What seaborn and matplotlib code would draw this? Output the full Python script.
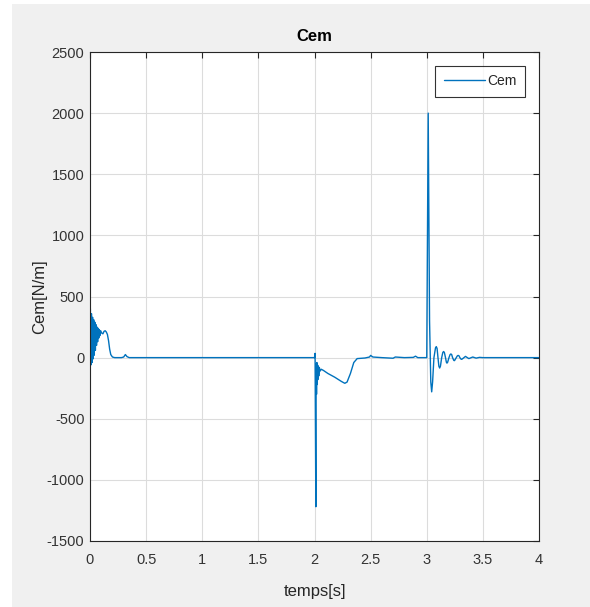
import matplotlib
matplotlib.use('Agg')
import matplotlib.pyplot as plt
import seaborn as sns
import pandas as pd
from matplotlib.patches import Rectangle

temps = [0.0, 0.003, 0.008, 0.013, 0.018, 0.023, 0.028, 0.033, 0.038, 0.043,
         0.048, 0.053, 0.058, 0.063, 0.068, 0.073, 0.078, 0.083, 0.088, 0.095,
         0.105, 0.115, 0.125, 0.135, 0.145, 0.155, 0.165, 0.175, 0.185, 0.2,
         0.22, 0.28, 0.3, 0.315, 0.33, 0.35,
         2.0, 2.005, 2.012, 2.015, 2.018, 2.021, 2.024, 2.027, 2.03, 2.034,
         2.038, 2.043, 2.05, 2.06, 2.08, 2.12, 2.18, 2.24, 2.27, 2.29,
         2.32, 2.35, 2.38, 2.45, 2.49, 2.5, 2.52, 2.6, 2.7, 2.72,
         2.8, 2.88, 2.9, 2.92, 3.0,
         3.013, 3.025, 3.036, 3.044, 3.052, 3.064, 3.078, 3.085, 3.092,
         3.1, 3.108, 3.115, 3.122, 3.133, 3.143, 3.15, 3.157, 3.167, 3.175,
         3.18, 3.186, 3.198, 3.208, 3.215, 3.222, 3.23, 3.24, 3.245, 3.25,
         3.263, 3.273, 3.28, 3.287, 3.295, 3.305, 3.31, 3.315,
         3.345, 3.375, 3.41, 3.44, 3.47, 3.5, 4.0]
cem = [0, 400, -60, 360, -40, 330, -10, 310, 20, 290,
       60, 270, 100, 250, 130, 240, 160, 230, 180, 220,
       200, 195, 215, 220, 210, 190, 140, 70, 25, 5,
       0, 0, 5, 25, 8, 0,
       0, 35, -1220, -50, -300, -40, -220, -60, -180, -70,
       -150, -80, -110, -95, -105, -130, -160, -195, -210, -200,
       -130, -40, -8, -3, 5, 18, 5, 0, -5, 5,
       0, 2, 12, 0, 0,
       2000, 300, -200, -280, -200, 0, 80, 90, 75,
       0, -70, -85, -70, 0, 42, 50, 42, 0, -38,
       -45, -38, 0, 25, 30, 25, 0, -21, -25, -21,
       0, 15, 18, 15, 0, -12, -14, -12,
       10, -8, 5, -4, 2, 0, 0]

x_ticks = [0, 0.5, 1, 1.5, 2, 2.5, 3, 3.5, 4]
x_labels = ['0', '0.5', '1', '1.5', '2', '2.5', '3', '3.5', '4']
y_ticks = [-1500, -1000, -500, 0, 500, 1000, 1500, 2000, 2500]

df = pd.DataFrame({'temps': temps, 'Cem': cem})

sns.set_theme(style="whitegrid")
plt.rcParams['font.family'] = ['Liberation Sans', 'DejaVu Sans']
plt.rcParams['axes.unicode_minus'] = False

fig = plt.figure(figsize=(5.9, 6.07), dpi=100, facecolor='#f0f0f0')
# bande blanche a gauche et en haut (capture d'ecran)
fig.patches.append(Rectangle((0, 0), 12 / 590, 1, transform=fig.transFigure,
                             facecolor='white', edgecolor='none', zorder=0))
fig.patches.append(Rectangle((0, 1 - 4 / 607), 1, 4 / 607, transform=fig.transFigure,
                             facecolor='white', edgecolor='none', zorder=0))
ax = fig.add_axes([90 / 590, 66 / 607, 449 / 590, 489 / 607])

sns.lineplot(data=df, x='temps', y='Cem', ax=ax, color='#0072BD', linewidth=1.0,
             estimator=None, sort=False, label='Cem')

ax.set_xlim(0, 4)
ax.set_ylim(-1500, 2500)
ax.set_xticks(x_ticks)
ax.set_xticklabels(x_labels)
ax.set_yticks(y_ticks)
ax.set_facecolor('white')
ax.grid(True, color='#dcdcdc', linewidth=0.8)
for s in ax.spines.values():
    s.set_color('#262626')
    s.set_linewidth(0.8)
ax.tick_params(direction='in', length=4, width=0.8, color='#262626',
               top=True, right=True, labelsize=10.5, labelcolor='#333333', pad=4)
ax.tick_params(axis='x', pad=9)

ax.set_title('Cem', fontsize=12, fontweight='bold', color='black', pad=8)
ax.set_xlabel('temps[s]', fontsize=12, color='#262626', labelpad=12)
ax.set_ylabel('Cem[N/m]', fontsize=12, color='#262626', labelpad=0)

leg = ax.legend(loc='upper right', fontsize=10, frameon=True, fancybox=False,
                handlelength=3.0, borderaxespad=1.0, handletextpad=0.15,
                borderpad=0.6)
leg.get_frame().set_edgecolor('black')
leg.get_frame().set_linewidth(0.8)

fig.savefig('out.png', dpi=100, facecolor=fig.get_facecolor())
